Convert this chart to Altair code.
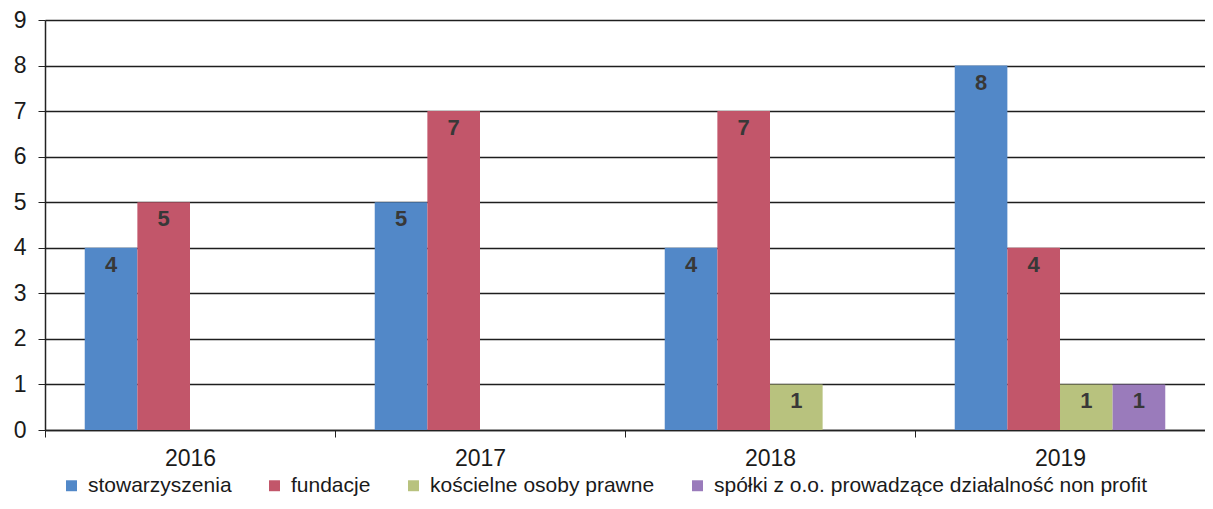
import altair as alt
import pandas as pd

years = ["2016", "2017", "2018", "2019"]
series = ["stowarzyszenia", "fundacje", "kościelne osoby prawne",
          "spółki z o.o. prowadzące działalność non profit"]
stowarzyszenia = [4, 5, 4, 8]
fundacje = [5, 7, 7, 4]
koscielne = [0, 0, 1, 1]
spolki = [0, 0, 0, 1]
colors = ["#5288c8", "#c2566a", "#b8c27e", "#9a7bbb"]

rows = []
for s, vals in zip(series, [stowarzyszenia, fundacje, koscielne, spolki]):
    for y, v in zip(years, vals):
        rows.append({"rok": y, "seria": s, "wartosc": v})
df = pd.DataFrame(rows)

FONT = "Liberation Sans, Arial"

x = alt.X("rok:N", sort=years, title=None,
          scale=alt.Scale(paddingInner=0, paddingOuter=0),
          axis=alt.Axis(labelAngle=0, labelFontSize=23, labelColor="#1a1a1a",
                        labelFont=FONT, tickBand="extent", tickSize=7,
                        tickColor="#222", domainColor="#222", domainWidth=1.5,
                        labelPadding=10, grid=False))
xo = alt.XOffset("seria:N", sort=series,
                 scale=alt.Scale(paddingInner=0, paddingOuter=0.755))
y = alt.Y("wartosc:Q", title=None,
          scale=alt.Scale(domain=[0, 9], nice=False),
          axis=alt.Axis(values=list(range(10)), tickCount=10, labelFontSize=23,
                        labelColor="#1a1a1a", labelFont=FONT, tickSize=7,
                        tickColor="#222", domainColor="#222", domainWidth=1.5,
                        gridColor="#1e1e1e", gridWidth=1.6, labelPadding=12))

bars = alt.Chart(df).mark_bar(opacity=1).encode(
    x=x, xOffset=xo, y=y,
    color=alt.Color("seria:N", sort=series,
                    scale=alt.Scale(domain=series, range=colors),
                    legend=alt.Legend(title=None, orient="none", direction="horizontal",
                                      legendX=16, legendY=455, symbolType="square",
                                      symbolSize=120, symbolStrokeWidth=0,
                                      labelFontSize=21, labelFont=FONT, labelLimit=0,
                                      labelColor="#1a1a1a", columnPadding=32,
                                      symbolOpacity=1, labelOffset=6)),
)

labels = alt.Chart(df).transform_filter("datum.wartosc > 0").mark_text(
    baseline="top", dy=7, fontSize=22, font=FONT, color="#383838", fontWeight="bold"
).encode(
    x=alt.X("rok:N", sort=years), xOffset=xo, y=alt.Y("wartosc:Q"),
    text="wartosc:Q",
)

chart = alt.layer(bars, labels).properties(
    width=1160, height=410,
    padding={"left": 37, "top": 12, "right": 0, "bottom": 71},
    autosize=alt.AutoSizeParams(type="none"),
).configure_view(stroke=None).configure(background="white")

chart.save("out.html", embed_options={"renderer": "svg", "actions": False})
